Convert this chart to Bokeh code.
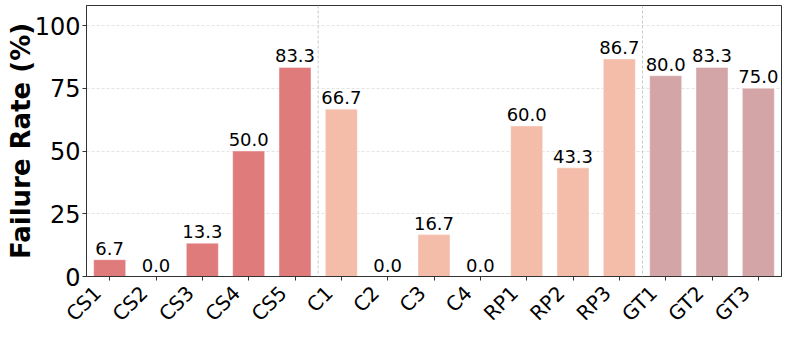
from bokeh.plotting import figure
from bokeh.models import (ColumnDataSource, FixedTicker, Span, Range1d, LinearAxis,
                          CustomJSTickFormatter)
from bokeh.embed import file_html
from bokeh.resources import INLINE
from bokeh.core.properties import value
import math

categories = ["CS1", "CS2", "CS3", "CS4", "CS5", "C1", "C2", "C3", "C4",
              "RP1", "RP2", "RP3", "GT1", "GT2", "GT3"]
failure_rate = [6.7, 0.0, 13.3, 50.0, 83.3, 66.7, 0.0, 16.7, 0.0,
                60.0, 43.3, 86.7, 80.0, 83.3, 75.0]
groups = ["CS"] * 5 + ["C"] * 4 + ["RP"] * 3 + ["GT"] * 3
group_colors = {"CS": "#E07B7B", "C": "#F4BDA9", "RP": "#F4BDA9", "GT": "#D4A5A6"}
separators = [4.5, 11.5]
y_ticks = [0, 25, 50, 75, 100]

FONT = "DejaVu Sans"
LABEL_SHIFT = -0.26  # horizontal offset of rotated tick labels (style)

xs = list(range(len(categories)))
src = ColumnDataSource(dict(
    x=xs,
    top=failure_rate,
    color=[group_colors[g] for g in groups],
    label=[f"{v:.1f}" for v in failure_rate],
))

p = figure(width=793, height=337, output_backend="svg", toolbar_location=None,
           title=None,
           x_range=Range1d(-0.5, len(categories) - 0.5), y_range=Range1d(0, 108),
           min_border_left=86, min_border_right=12, min_border_top=5, min_border_bottom=61)

p.vbar(x="x", top="top", width=0.69, source=src, fill_color="color",
       line_color="white", line_width=0.8, line_alpha=0.5)

p.text(x="x", y="top", text="label", source=src, text_align="center",
       text_baseline="bottom", y_offset=-5, text_font=value(FONT),
       text_font_size="18px", text_color="black")

for s in separators:
    p.add_layout(Span(location=s, dimension="height", line_color="#c8c8c8",
                      line_dash="3 2", line_width=1))

# main x axis: tick marks only
xa = p.xaxis[0]
xa.ticker = FixedTicker(ticks=xs)
xa.formatter = CustomJSTickFormatter(code="return ''")
xa.major_label_text_font_size = "0px"
xa.major_label_standoff = 0
xa.major_tick_out = 4
xa.major_tick_in = 0
xa.minor_tick_out = 0
xa.minor_tick_in = 0
xa.axis_line_color = "#333333"
xa.major_tick_line_color = "#333333"

# label axis: rotated category names
lab_axis = LinearAxis(
    ticker=FixedTicker(ticks=[i + LABEL_SHIFT for i in xs]),
    formatter=CustomJSTickFormatter(args=dict(cats=categories, shift=LABEL_SHIFT),
                                    code="return cats[Math.round(tick - shift)]"),
    major_label_orientation=math.pi / 4,
    major_label_text_font=FONT,
    major_label_text_font_size="20px",
    major_label_text_color="black",
    major_label_standoff=9,
    major_tick_out=0, major_tick_in=0, minor_tick_out=0, minor_tick_in=0,
    axis_line_color=None, major_tick_line_color=None, minor_tick_line_color=None,
)
p.add_layout(lab_axis, "below")

ya = p.yaxis[0]
ya.ticker = FixedTicker(ticks=y_ticks)
ya.major_label_text_font = FONT
ya.major_label_text_font_size = "24px"
ya.major_label_text_color = "black"
ya.major_tick_out = 4
ya.major_tick_in = 0
ya.minor_tick_out = 0
ya.minor_tick_in = 0
ya.major_label_standoff = 2
ya.axis_label = "Failure Rate (%)"
ya.axis_label_text_font = FONT
ya.axis_label_text_font_style = "bold"
ya.axis_label_text_font_size = "26px"
ya.axis_label_text_color = "black"
ya.axis_label_standoff = -4
ya.axis_line_color = "#333333"
ya.major_tick_line_color = "#333333"

p.xgrid.grid_line_color = None
p.ygrid.grid_line_color = "#dddddd"
p.ygrid.grid_line_dash = "3 2"
p.ygrid.grid_line_alpha = 0.8

p.outline_line_color = "#333333"
p.outline_line_width = 1
p.background_fill_color = "white"
p.border_fill_color = "white"

open("out.html", "w").write(file_html(p, INLINE))
